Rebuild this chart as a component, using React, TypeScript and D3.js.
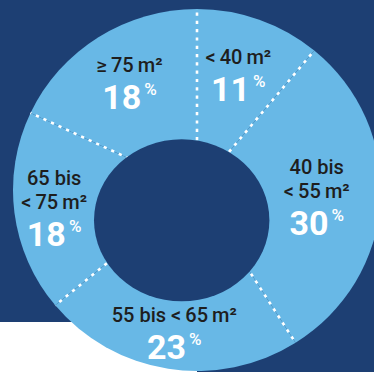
import React from "react";
import * as d3 from "d3";

// ---- data ----
const categories: string[][] = [
  ["<\u200940\u2009m²"],
  ["40 bis", "<\u200955\u2009m²"],
  ["55 bis <\u200965\u2009m²"],
  ["65 bis", "<\u200975\u2009m²"],
  ["≥\u200975\u2009m²"],
];
const shares: number[] = [11, 30, 23, 18, 18];
const percentSuffix = "%";

// ---- layout ----
const W = 374;
const H = 372;
const NAVY = "#1d3f73";
const LIGHT = "#68b8e6";
const TEXT = "#1e1e1e";
const center = { x: 197, y: 190 };
const outer = { rx: 184, ry: 181 };
const hole = { cx: 181.7, cy: 220.3, rx: 87.7, ry: 81 };
const labelRadius = [122, 120, 145, 144, 126];
const FONT = "Roboto, 'DejaVu Sans', sans-serif";

export default function App() {
  const pie = d3
    .pie<number>()
    .sort(null)
    .value((d) => d);
  const arcs = pie(shares);
  const arcGen = d3
    .arc<d3.PieArcDatum<number>>()
    .innerRadius(0)
    .outerRadius(outer.ry);

  const sx = outer.rx / outer.ry;

  const labelFont = 20;
  const lineH = 24;
  const pctGap = 37;

  return (
    <svg
      width={W}
      height={H}
      style={{ position: "absolute", left: 0, top: 0, display: "block" }}
    >
      <rect x={0} y={0} width={W} height={H} fill={NAVY} />
      <rect x={0} y={322} width={center.x} height={H - 322} fill="#ffffff" />
      <g transform={`translate(${center.x},${center.y}) scale(${sx},1)`}>
        {arcs.map((a, i) => (
          <path key={i} d={arcGen(a) || ""} fill={LIGHT} />
        ))}
      </g>
      {arcs.map((a, i) => {
        const t = a.startAngle;
        const x2 = center.x + outer.rx * Math.sin(t);
        const y2 = center.y - outer.ry * Math.cos(t);
        return (
          <line
            key={"l" + i}
            x1={center.x}
            y1={center.y}
            x2={x2}
            y2={y2}
            stroke="#ffffff"
            strokeWidth={2.6}
            strokeDasharray="3.2 5.1"
          />
        );
      })}
      <ellipse
        cx={hole.cx}
        cy={hole.cy}
        rx={hole.rx}
        ry={hole.ry}
        fill={NAVY}
      />
      {arcs.map((a, i) => {
        const mid = (a.startAngle + a.endAngle) / 2;
        const r = labelRadius[i];
        const cx = center.x + r * Math.sin(mid);
        const cy = center.y - r * Math.cos(mid);
        const lines = categories[i];
        const blockH = 14 + lineH * (lines.length - 1) + pctGap;
        const top = cy - blockH / 2;
        const firstBase = top + 14;
        const pctBase = firstBase + lineH * (lines.length - 1) + pctGap;
        return (
          <g key={"t" + i} fontFamily={FONT}>
            {lines.map((ln, j) => (
              <text
                key={j}
                x={cx}
                y={firstBase + j * lineH}
                textAnchor="middle"
                fontSize={labelFont}
                fontWeight={500}
                fill={TEXT}
              >
                {ln}
              </text>
            ))}
            <text
              x={cx}
              y={pctBase}
              textAnchor="middle"
              fill="#ffffff"
              fontWeight="bold"
              fontSize={34}
            >
              <tspan>{shares[i]}</tspan>
              <tspan fontSize={17} fontWeight={500} dx={3} dy={-14}>
                {percentSuffix}
              </tspan>
            </text>
          </g>
        );
      })}
    </svg>
  );
}
